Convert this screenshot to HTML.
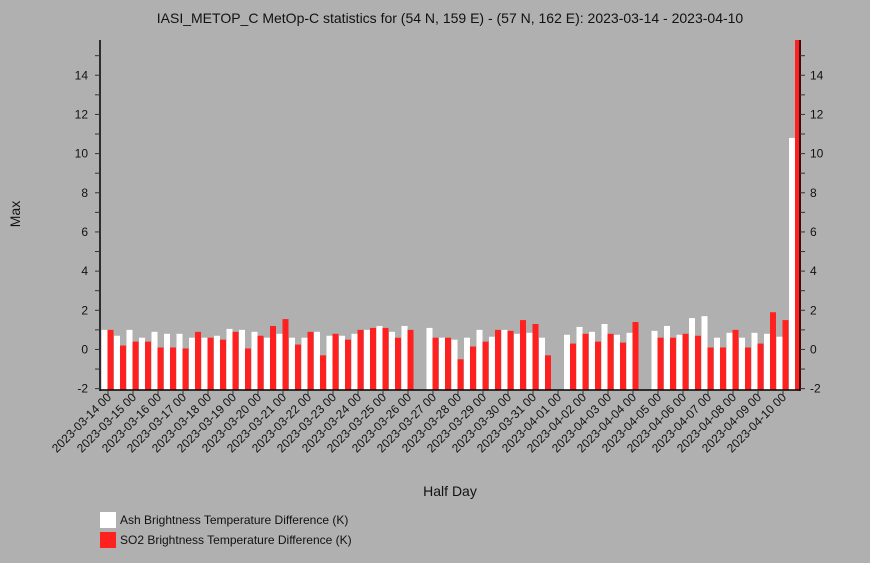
<!DOCTYPE html>
<html><head><meta charset="utf-8"><style>
html,body{margin:0;padding:0;width:870px;height:563px;overflow:hidden;background:#b0b0b0;font-family:"Liberation Sans",sans-serif;}
svg{display:block;}
svg text{font-family:"Liberation Sans",sans-serif;}
</style></head><body>
<svg id="c" width="870" height="563" xmlns="http://www.w3.org/2000/svg">
<rect width="870" height="563" fill="#b0b0b0"/>
<text x="450" y="23" text-anchor="middle" font-size="14" fill="#111">IASI_METOP_C MetOp-C statistics for (54 N, 159 E) - (57 N, 162 E): 2023-03-14 - 2023-04-10</text>
<text x="20" y="214" text-anchor="middle" font-size="14" fill="#111" transform="rotate(-90 20 214)">Max</text>
<text x="450" y="496" text-anchor="middle" font-size="14" fill="#111">Half Day</text>
<g>
<rect x="100" y="512" width="16" height="16" fill="#fff"/>
<text x="120" y="524" font-size="12" fill="#111">Ash Brightness Temperature Difference (K)</text>
<rect x="100" y="532" width="16" height="16" fill="#ff2020"/>
<text x="120" y="544" font-size="12" fill="#111">SO2 Brightness Temperature Difference (K)</text>
</g>
<g id="plot"></g>
</svg>
<script>
const dayLabels=["2023-03-14 00","2023-03-15 00","2023-03-16 00","2023-03-17 00","2023-03-18 00","2023-03-19 00","2023-03-20 00","2023-03-21 00","2023-03-22 00","2023-03-23 00","2023-03-24 00","2023-03-25 00","2023-03-26 00","2023-03-27 00","2023-03-28 00","2023-03-29 00","2023-03-30 00","2023-03-31 00","2023-04-01 00","2023-04-02 00","2023-04-03 00","2023-04-04 00","2023-04-05 00","2023-04-06 00","2023-04-07 00","2023-04-08 00","2023-04-09 00","2023-04-10 00"];
const ashValues=[1.0,0.7,1.0,0.6,0.9,0.8,0.8,0.6,0.6,0.7,1.05,1.0,0.9,0.6,0.8,0.6,0.6,0.9,0.7,0.7,0.8,1.0,1.2,0.9,1.2,null,1.1,0.6,0.5,0.6,1.0,0.65,1.0,0.8,0.85,0.6,null,0.75,1.15,0.9,1.3,0.75,0.85,null,0.95,1.2,0.75,1.6,1.7,0.6,0.85,0.6,0.85,0.8,0.65,10.8];
const so2Values=[1.0,0.2,0.4,0.4,0.1,0.1,0.05,0.9,0.6,0.5,0.9,0.05,0.7,1.2,1.55,0.25,0.9,-0.3,0.8,0.5,1.0,1.1,1.1,0.6,1.0,null,0.6,0.6,-0.5,0.15,0.4,1.0,0.95,1.5,1.3,-0.3,null,0.3,0.8,0.4,0.8,0.35,1.4,null,0.6,0.6,0.8,0.7,0.1,0.1,1.0,0.1,0.3,1.9,1.5,15.8];
const yTicks=[-2,0,2,4,6,8,10,12,14];
const NS="http://www.w3.org/2000/svg";
const X0=100,X1=800,YT=40,YB=390,x0c=108,slotW=12.5;
const yMin=-2.07,yMax=15.8;
function ys(v){return YB-(v-yMin)/(yMax-yMin)*(YB-YT);}
function xs(i){return x0c+i*slotW;}
const g=document.getElementById('plot');
function mk(t,a){const e=document.createElementNS(NS,t);for(const k in a)e.setAttribute(k,a[k]);g.appendChild(e);return e;}
for(let i=0;i<ashValues.length;i++){
  if(ashValues[i]!==null){const r=mk('rect',{x:xs(i)-6.5,y:ys(ashValues[i]),width:6,height:YB-ys(ashValues[i]),fill:'#fff'});
  
  }
  if(so2Values[i]!==null){const r=mk('rect',{x:xs(i)-0.5,y:ys(so2Values[i]),width:6,height:YB-ys(so2Values[i]),fill:'#ff2020'});
  
  }
}
let a=mk('line',{x1:X0,y1:YT,x2:X0,y2:YB+1,stroke:'#000','stroke-width':1.5});


a=mk('line',{x1:X1,y1:YT,x2:X1,y2:YB+1,stroke:'#000','stroke-width':1.5});


a=mk('line',{x1:X0,y1:YB,x2:X1,y2:YB,stroke:'#000','stroke-width':1.5});


for(let v=-2;v<=15;v++){
  const y=ys(v);
  mk('line',{x1:X0-5,y1:y,x2:X0,y2:y,stroke:'#333'});
  mk('line',{x1:X1,y1:y,x2:X1+5,y2:y,stroke:'#333'});
}
yTicks.forEach(v=>{
  const y=ys(v);
  let t=mk('text',{x:88,y:y+4,'text-anchor':'end','font-size':12,fill:'#111'});t.textContent=v;
  
  
  t=mk('text',{x:810,y:y+4,'font-size':12,fill:'#111'});t.textContent=v;
  
  
});
dayLabels.forEach((l,k)=>{
  const x=xs(k*2);
  mk('line',{x1:x,y1:YB,x2:x,y2:YB+5,stroke:'#333'});
  const t=mk('text',{x:x+4,y:YB+8,'text-anchor':'end','font-size':12,fill:'#111',transform:`rotate(-45 ${x+4} ${YB+8})`});
  t.textContent=l;
  
  
});
</script>
</body></html>
